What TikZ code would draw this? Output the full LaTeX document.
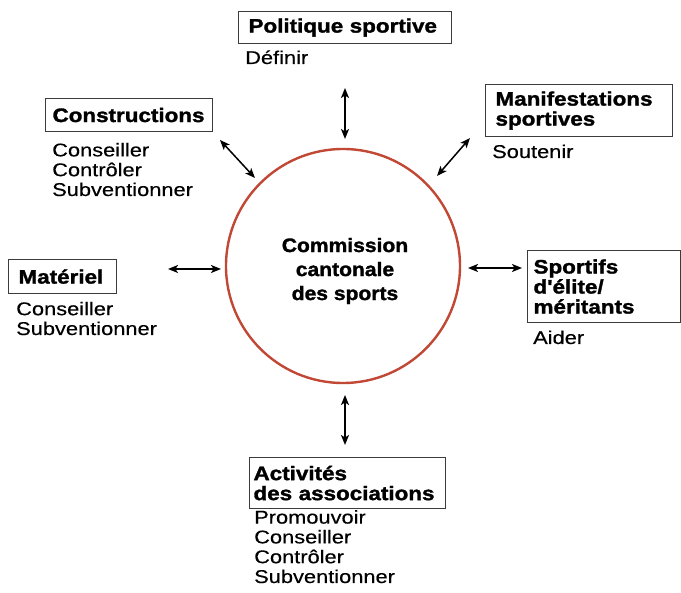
\documentclass[tikz,border=0pt]{standalone}
\usepackage{fontspec}
\usetikzlibrary{arrows.meta}
\newfontfamily\bodyf[FakeStretch=1.18,FakeBold=0.3]{Liberation Sans}
\newfontfamily\headf[FakeStretch=1.15,BoldFeatures={FakeBold=1.5}]{Liberation Sans}
\newfontfamily\circf[FakeStretch=1.08,BoldFeatures={FakeBold=1.5}]{Liberation Sans}
\definecolor{circred}{RGB}{192,72,52}
\definecolor{boxgray}{RGB}{60,60,60}
\begin{document}
\begin{tikzpicture}[x=1pt,y=-1pt,
  hbox/.style={draw=boxgray, line width=1.1pt, anchor=north west, align=left,
    inner ysep=0pt, font=\headf\bfseries\fontsize{19.5}{20}\selectfont},
  items/.style={anchor=base west, align=left, inner sep=0pt,
    font=\bodyf\fontsize{18.5}{19.8}\selectfont},
  arr/.style={line width=1.5pt, {Stealth[length=10pt,width=8pt,inset=2.5pt]}-{Stealth[length=10pt,width=8pt,inset=2.5pt]}}
]
\useasboundingbox (0,0) rectangle (681,593);

% centre circle
\node[circle, draw=circred, line width=2.4pt, minimum size=234pt, inner sep=0pt] (circ) at (343,266) {};
\node[align=center, inner sep=0pt, font=\circf\bfseries\fontsize{19.5}{24}\selectfont] (ctext) at (345,271)
  {Commission\\cantonale\\des sports};

% boxes
\node[hbox, inner xsep=10pt, text width=193pt, minimum height=32pt] (bP) at (238,11) {Politique sportive};
\node[hbox, inner xsep=7pt, text width=153pt, minimum height=33pt] (bC) at (45,98) {Constructions};
\node[hbox, inner xsep=10pt, text width=167pt, minimum height=52pt] (bM) at (485,84) {Manifestations\\sportives};
\node[hbox, inner xsep=10pt, text width=88pt, minimum height=34pt] (bMa) at (8,259) {Matériel};
\node[hbox, inner xsep=6pt, text width=141pt, minimum height=72pt] (bS) at (527,250) {Sportifs\\d'élite/\\méritants};
\node[hbox, inner xsep=4pt, text width=188pt, minimum height=51pt] (bA) at (249,457) {Activités\\des associations};

% item lists (anchor = baseline of the last line)
\node[items] (tP) at (245,64) {Définir};
\node[items] (tC) at (52,196) {Conseiller\\Contrôler\\Subventionner};
\node[items] (tM) at (492,158) {Soutenir};
\node[items] (tMa) at (16,335) {Conseiller\\Subventionner};
\node[items] (tS) at (533,344) {Aider};
\node[items] (tA) at (254,583) {Promouvoir\\Conseiller\\Contrôler\\Subventionner};

% arrow end points
\coordinate (nA) at (345,88);   \coordinate (nB) at (345,139);
\coordinate (nwA) at (220,140); \coordinate (nwB) at (255,178);
\coordinate (neA) at (470,138); \coordinate (neB) at (437,176);
\coordinate (wA) at (168,269);  \coordinate (wB) at (221,269);
\coordinate (eA) at (522,268);  \coordinate (eB) at (468,268);
\coordinate (sA) at (345,445);  \coordinate (sB) at (345,395);

\draw[arr] (nA) -- (nB);
\draw[arr] (nwA) -- (nwB);
\draw[arr] (neA) -- (neB);
\draw[arr] (wA) -- (wB);
\draw[arr] (eA) -- (eB);
\draw[arr] (sA) -- (sB);
\end{tikzpicture}
\end{document}
